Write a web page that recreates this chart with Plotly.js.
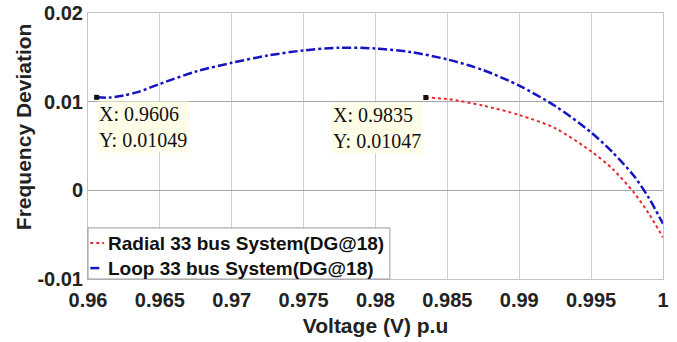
<!DOCTYPE html>
<html>
<head>
<meta charset="utf-8">
<script src="https://cdn.plot.ly/plotly-3.0.1.min.js"></script>
<style>html,body{margin:0;padding:0;background:#fff;}#chart{width:677px;height:342px;}</style>
</head>
<body>
<div id="chart"></div>
<script>
// ---- data ----
const loopName = 'Loop 33 bus System(DG@18)';
const loopV = [0.9606, 0.9615, 0.9625, 0.9635, 0.965, 0.9675, 0.970, 0.9725, 0.975, 0.9775, 0.980, 0.9825, 0.985, 0.9875, 0.990, 0.9925, 0.995, 0.9965, 0.998, 0.999, 1.0];
const loopF = [0.01049, 0.01046, 0.0107, 0.0111, 0.0120, 0.0134, 0.01438, 0.0152, 0.01578, 0.01608, 0.0160, 0.01558, 0.01476, 0.01356, 0.0118, 0.00951, 0.00653, 0.00428, 0.00158, -0.00082, -0.00377];

const radialName = 'Radial 33 bus System(DG@18)';
const radialV = [0.9835, 0.985, 0.9875, 0.990, 0.9925, 0.995, 0.9965, 0.998, 0.999, 1.0];
const radialF = [0.01047, 0.0103, 0.00955, 0.0085, 0.0070, 0.0044, 0.0024, -0.0003, -0.0026, -0.0053];

const tipV = [0.9606, 0.9835];
const tipF = [0.01049, 0.01047];
const tipLabels = ['X: 0.9606<br>Y: 0.01049', 'X: 0.9835<br>Y: 0.01047'];

const xTicks = [0.96, 0.965, 0.97, 0.975, 0.98, 0.985, 0.99, 0.995, 1];
const xTickLabels = ['0.96', '0.965', '0.97', '0.975', '0.98', '0.985', '0.99', '0.995', '1'];
const yTicks = [-0.01, 0, 0.01, 0.02];
const yTickLabels = ['-0.01', '0', '0.01', '0.02'];

const xTitle = 'Voltage (V) p.u';
const yTitle = 'Frequency Deviation';

// ---- styling ----
const SANS = 'Liberation Sans, Arial, sans-serif';
const SERIF = 'Liberation Serif, Times New Roman, serif';
const BLUE = '#1414c4';
const RED = '#e6282c';

const traces = [
  {x: radialV, y: radialF, name: radialName, mode: 'lines', line: {color: RED, width: 2, dash: 'dot', shape: 'spline', smoothing: 0.8}, showlegend: false, hoverinfo: 'skip'},
  {x: loopV, y: loopF, name: loopName, mode: 'lines', line: {color: BLUE, width: 2.5, dash: 'dashdot', shape: 'spline', smoothing: 0.8}, showlegend: false, hoverinfo: 'skip'},
  {x: tipV, y: tipF, mode: 'markers', marker: {symbol: 'square', size: 5, color: '#111'}, showlegend: false, hoverinfo: 'skip'}
];

const tipFont = {family: SERIF, size: 20, color: '#111'};
const annotations = [
  {x: tipV[0], y: tipF[0], xref: 'x', yref: 'y', text: tipLabels[0], showarrow: false, xanchor: 'left', yanchor: 'top', xshift: 0, yshift: -4, align: 'left', bgcolor: '#fdfde8', borderpad: 1, font: tipFont},
  {x: tipV[1], y: tipF[1], xref: 'x', yref: 'y', text: tipLabels[1], showarrow: false, xanchor: 'right', yanchor: 'top', xshift: -3, yshift: -4, align: 'left', bgcolor: '#fdfde8', borderpad: 1, font: tipFont},
  {x: -0.113, y: 0.571, xref: 'paper', yref: 'paper', text: yTitle, textangle: -90, showarrow: false, xanchor: 'center', yanchor: 'middle', font: {family: SANS, size: 21, weight: 'bold', color: '#222'}},
  {x: 0.0313, y: 0.135, xref: 'paper', yref: 'paper', text: radialName, showarrow: false, xanchor: 'left', yanchor: 'middle', font: {family: SANS, size: 19, weight: 'bold', color: '#111'}},
  {x: 0.0313, y: 0.041, xref: 'paper', yref: 'paper', text: loopName, showarrow: false, xanchor: 'left', yanchor: 'middle', font: {family: SANS, size: 19, weight: 'bold', color: '#111'}}
];

const shapes = [
  {type: 'rect', xref: 'paper', yref: 'paper', x0: 0, x1: 0.525, y0: 0, y1: 0.192, line: {color: '#9a9a9a', width: 1}, fillcolor: '#ffffff', layer: 'above'},
  {type: 'line', xref: 'paper', yref: 'paper', x0: 0.004, x1: 0.028, y0: 0.135, y1: 0.135, line: {color: RED, width: 2, dash: 'dot'}, layer: 'above'},
  {type: 'line', xref: 'paper', yref: 'paper', x0: 0.004, x1: 0.028, y0: 0.041, y1: 0.041, line: {color: BLUE, width: 2.5, dash: 'dash'}, layer: 'above'}
];

const layout = {
  width: 677, height: 342,
  margin: {l: 88, r: 14, t: 13, b: 63},
  paper_bgcolor: '#ffffff', plot_bgcolor: '#ffffff',
  showlegend: false,
  xaxis: {
    range: [0.96, 1], tickmode: 'array', tickvals: xTicks, ticktext: xTickLabels,
    showgrid: true, gridcolor: '#cfcfcf', gridwidth: 1, zeroline: false,
    showline: true, linecolor: '#c4c4c4', linewidth: 1, mirror: true,
    ticks: 'outside', ticklen: 3, tickcolor: 'rgba(0,0,0,0)',
    tickfont: {family: SANS, size: 20, weight: 'bold', color: '#222'},
    title: {text: xTitle, standoff: 8, font: {family: SANS, size: 21, weight: 'bold', color: '#222'}}
  },
  yaxis: {
    range: [-0.01, 0.02], tickmode: 'array', tickvals: yTicks, ticktext: yTickLabels,
    showgrid: true, gridcolor: '#a6a6a6', gridwidth: 1, zeroline: false,
    showline: true, linecolor: '#c4c4c4', linewidth: 1, mirror: true,
    ticks: '',
    tickfont: {family: SANS, size: 20, weight: 'bold', color: '#222'}
  },
  annotations: annotations,
  shapes: shapes
};

Plotly.newPlot('chart', traces, layout, {staticPlot: true, displayModeBar: false});
</script>
</body>
</html>
